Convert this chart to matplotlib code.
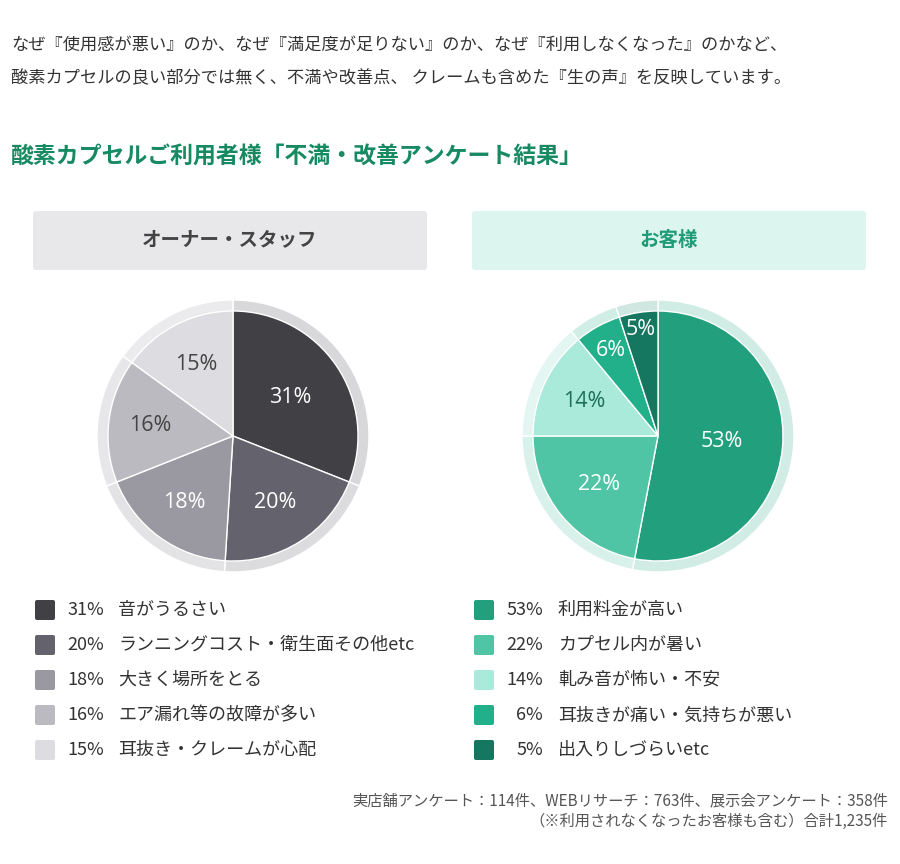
import numpy as np
import matplotlib
matplotlib.use('Agg')
import matplotlib.pyplot as plt
import matplotlib.colors as mcolors
from matplotlib.patches import FancyBboxPatch

plt.rcParams['font.family'] = ['Noto Sans CJK JP', 'DejaVu Sans']

# データ
owner_values = [31, 20, 18, 16, 15]
owner_labels = ['音がうるさい', 'ランニングコスト・衛生面その他etc', '大きく場所をとる',
                'エア漏れ等の故障が多い', '耳抜き・クレームが心配']
owner_colors = ['#414045', '#63626d', '#9a99a2', '#bbbac1', '#dddce0']
owner_text = ['white', 'white', 'white', '#444444', '#444444']
owner_rdist = [0.55, 0.63, 0.66, 0.67, 0.64]

guest_values = [53, 22, 14, 6, 5]
guest_labels = ['利用料金が高い', 'カプセル内が暑い', '軋み音が怖い・不安',
                '耳抜きが痛い・気持ちが悪い', '出入りしづらいetc']
guest_colors = ['#22a07d', '#50c5a6', '#a9eadb', '#22b08a', '#157760']
guest_text = ['white', 'white', '#1f6f58', 'white', 'white']
guest_rdist = [0.51, 0.61, 0.65, 0.78, 0.86]

intro1 = 'なぜ『使用感が悪い』のか、なぜ『満足度が足りない』のか、なぜ『利用しなくなった』のかなど、'
intro2 = '酸素カプセルの良い部分では無く、不満や改善点、 クレームも含めた『生の声』を反映しています。'
title = '酸素カプセルご利用者様「不満・改善アンケート結果」'
note1 = '実店舗アンケート：114件、WEBリサーチ：763件、展示会アンケート：358件'
note2 = '（※利用されなくなったお客様も含む）合計1,235件'

W, H = 900, 864
fig = plt.figure(figsize=(W / 100, H / 100), dpi=100)
bg = fig.add_axes([0, 0, 1, 1])
bg.set_xlim(0, W)
bg.set_ylim(H, 0)
bg.axis('off')

bg.text(11, 45, intro1, fontsize=12.4, color='#333333', va='center')
bg.text(11, 78, intro2, fontsize=12.4, color='#333333', va='center')
bg.text(11, 157, title, fontsize=16.5, color='#178a62', va='center', fontweight='bold')

# 見出しボックス
bg.add_patch(FancyBboxPatch((33, 211), 394, 59, boxstyle='round,pad=0,rounding_size=3',
                            fc='#e8e8ea', ec='none'))
bg.text(230, 240, 'オーナー・スタッフ', fontsize=14, fontweight='bold', color='#444444',
        ha='center', va='center')
bg.add_patch(FancyBboxPatch((472, 211), 394, 59, boxstyle='round,pad=0,rounding_size=3',
                            fc='#dcf5ee', ec='none'))
bg.text(669, 240, 'お客様', fontsize=14, fontweight='bold', color='#1f9c77',
        ha='center', va='center')


def mix(c, base, a):
    c = np.array(mcolors.to_rgb(c))
    b = np.array(mcolors.to_rgb(base))
    return tuple(a * c + (1 - a) * b)


def draw_pie(cx, cy, values, colors, tcolors, rdist, ringbase, alpha):
    R = 125
    lim = 1.1
    size = 2 * lim * R
    ax = fig.add_axes([(cx - size / 2) / W, 1 - (cy + size / 2) / H, size / W, size / H])
    ring = [mix(c, ringbase, alpha) for c in colors]
    ax.pie(values, colors=ring, radius=1.088, startangle=90, counterclock=False,
           wedgeprops=dict(edgecolor='white', linewidth=1))
    wedges, _ = ax.pie(values, colors=colors, radius=1.0, startangle=90, counterclock=False,
                       wedgeprops=dict(edgecolor='white', linewidth=1))
    for w, v, tc, rd in zip(wedges, values, tcolors, rdist):
        ang = np.deg2rad((w.theta1 + w.theta2) / 2)
        ax.text(rd * np.cos(ang), rd * np.sin(ang), f'{v}%', color=tc, fontsize=15.5,
                family='Open Sans', ha='center', va='center')
    ax.set_xlim(-lim, lim)
    ax.set_ylim(-lim, lim)
    ax.set_aspect('equal')
    ax.axis('off')


draw_pie(233, 436, owner_values, owner_colors, owner_text, owner_rdist, '#ededef', 0.12)
draw_pie(658, 436, guest_values, guest_colors, guest_text, guest_rdist, '#eef8f5', 0.14)


def draw_legend(x_box, x_pct, x_lab, values, labels, colors):
    for i, (v, lab, c) in enumerate(zip(values, labels, colors)):
        y = 610 + 35 * i
        bg.add_patch(FancyBboxPatch((x_box, y - 10), 20, 20,
                                    boxstyle='round,pad=0,rounding_size=2', fc=c, ec='none'))
        bg.text(x_pct, y, f'{v}%', fontsize=13, color='#333333', ha='right', va='center')
        bg.text(x_lab, y, lab, fontsize=13, color='#333333', ha='left', va='center')


draw_legend(35, 104, 118, owner_values, owner_labels, owner_colors)
draw_legend(474, 543, 558, guest_values, guest_labels, guest_colors)

bg.text(888, 801, note1, fontsize=11, color='#555555', ha='right', va='center')
bg.text(888, 821, note2, fontsize=11, color='#555555', ha='right', va='center')

fig.savefig('out.png', dpi=100, facecolor='white')
